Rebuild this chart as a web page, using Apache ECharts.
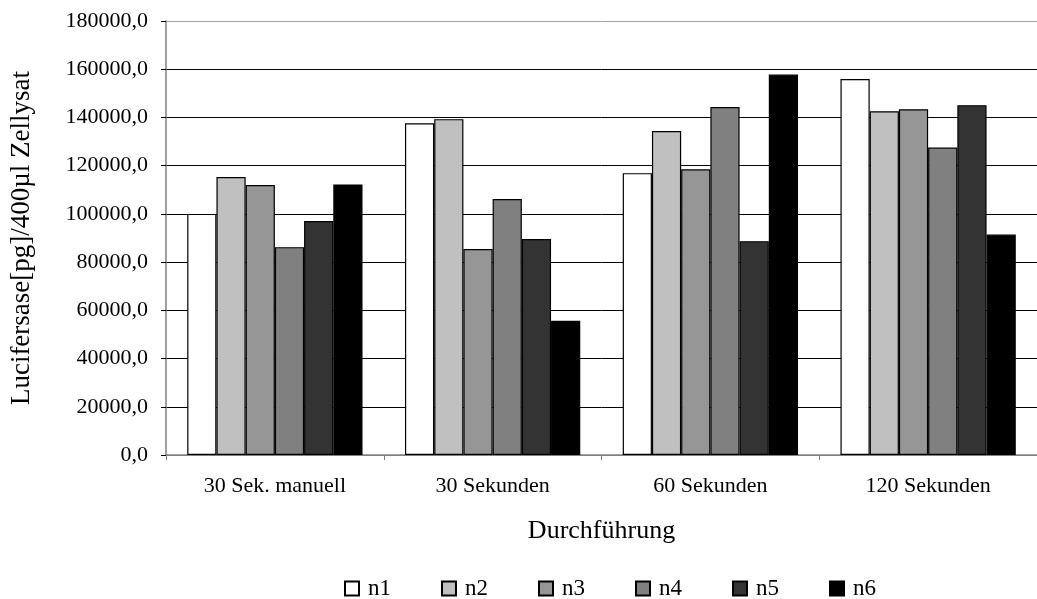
<!DOCTYPE html>
<html>
<head>
<meta charset="utf-8">
<script src="https://cdn.jsdelivr.net/npm/echarts@6/dist/echarts.min.js"></script>
<style>html,body{margin:0;padding:0;background:#fff}#c{width:1037px;height:599px}</style>
</head>
<body>
<div id="c"></div>
<script>
const categories = ['30 Sek. manuell', '30 Sekunden', '60 Sekunden', '120 Sekunden'];
const seriesNames = ['n1', 'n2', 'n3', 'n4', 'n5', 'n6'];
const n1 = [100000, 137600, 116900, 155900];
const n2 = [115300, 139300, 134400, 142600];
const n3 = [112000, 85400, 118500, 143400];
const n4 = [86200, 106200, 144300, 127500];
const n5 = [97000, 89600, 88700, 145100];
const n6 = [112200, 55700, 157800, 91400];
const yTicks = [0, 20000, 40000, 60000, 80000, 100000, 120000, 140000, 160000, 180000];
const seriesValues = [n1, n2, n3, n4, n5, n6];
const fills = ['#ffffff', '#c0c0c0', '#969696', '#808080', '#333333', '#000000'];

const FONT = "'Liberation Serif', 'Times New Roman', serif";
const chart = echarts.init(document.getElementById('c'));
chart.setOption({
  animation: false,
  backgroundColor: '#ffffff',
  textStyle: { fontFamily: FONT, color: '#000' },
  grid: { left: 165, top: 21, right: -6, bottom: 144 },
  legend: {
    left: 339, top: 572,
    itemWidth: 14, itemHeight: 14, itemGap: 50,
    icon: 'rect',
    textStyle: { fontFamily: FONT, fontSize: 23, color: '#000', padding: [0, 0, 0, 4] },
    data: seriesNames
  },
  xAxis: {
    type: 'category',
    data: categories,
    name: 'Durchführung',
    nameLocation: 'middle',
    nameGap: 63,
    nameTextStyle: { fontFamily: FONT, fontSize: 26, color: '#000' },
    axisLine: { lineStyle: { color: '#808080', width: 1.5 } },
    axisTick: { show: true, length: 5, lineStyle: { color: '#808080' } },
    axisLabel: { fontFamily: FONT, fontSize: 22, color: '#000', margin: 20 }
  },
  yAxis: {
    type: 'value',
    min: yTicks[0], max: yTicks[yTicks.length - 1], interval: yTicks[1] - yTicks[0],
    name: 'Lucifersase[pg]/400µl Zellysat',
    nameLocation: 'middle',
    nameGap: 131,
    nameTextStyle: { fontFamily: FONT, fontSize: 27, color: '#000' },
    axisLine: { show: true, lineStyle: { color: '#808080', width: 1.5 } },
    axisTick: { show: true, length: 5, lineStyle: { color: '#000' } },
    axisLabel: {
      fontFamily: FONT, fontSize: 22, color: '#000', margin: 18,
      formatter: v => v.toFixed(1).replace('.', ',')
    },
    splitLine: { show: true, lineStyle: { color: ['#808080', '#000', '#000', '#000', '#000', '#000', '#000', '#000', '#000', '#a0a0a0'], width: 1 } }
  },
  series: seriesNames.map((name, i) => ({
    name: name,
    type: 'bar',
    data: seriesValues[i],
    barGap: '0%',
    barCategoryGap: '19.5%',
    itemStyle: { color: fills[i], borderColor: '#000', borderWidth: 1.2 }
  }))
});
</script>
</body>
</html>
